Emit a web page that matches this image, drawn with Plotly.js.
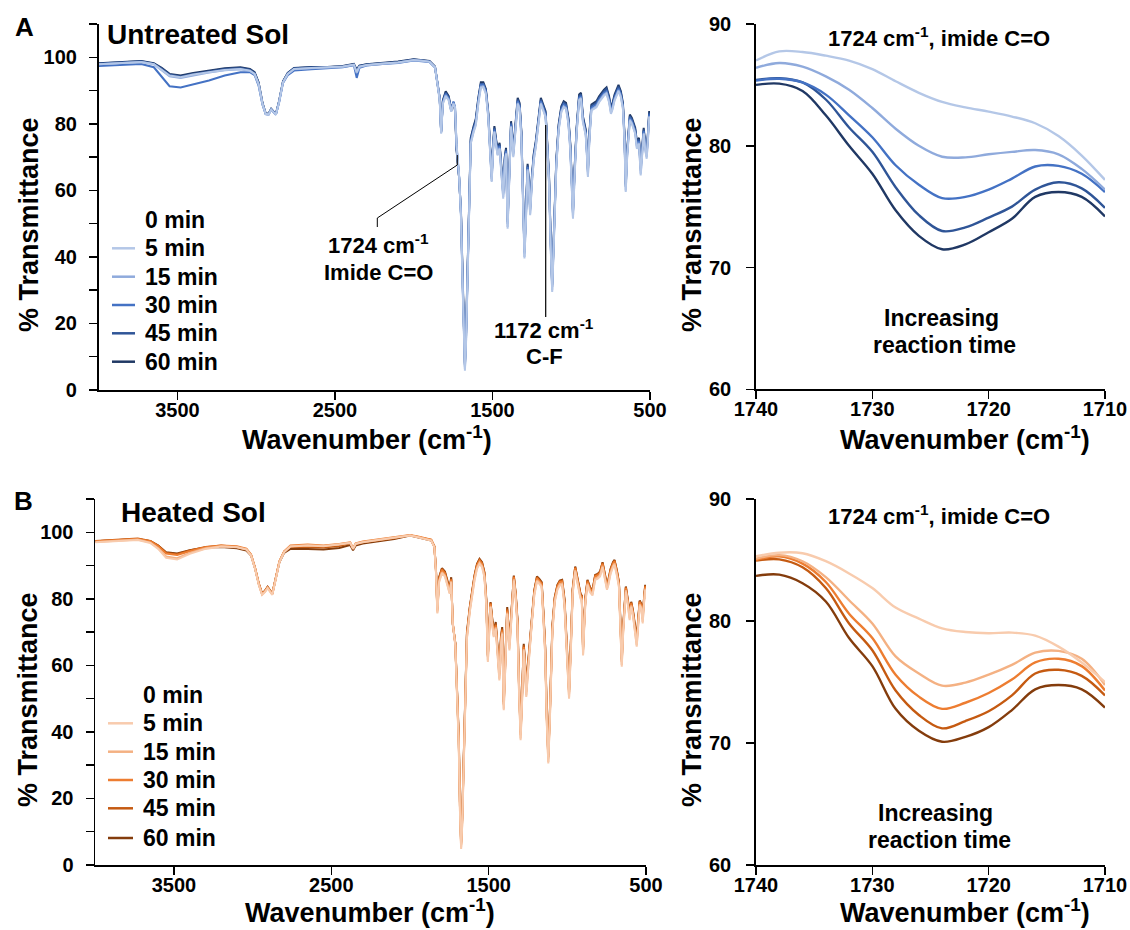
<!DOCTYPE html>
<html><head><meta charset="utf-8">
<script src="https://cdn.plot.ly/plotly-3.0.1.min.js"></script>
<style>html,body{margin:0;padding:0;background:#fff;}#chart{width:1130px;height:930px;}</style>
</head><body><div id="chart"></div>
<script>
// ---------- DATA ----------
const timeLabels = ['5 min', '15 min', '30 min', '45 min', '60 min'];

const wnFull = [4000,3850,3730,3650,3600,3550,3480,3400,3300,3200,
3100,3040,3010,2985,2960,2940,2922,2905,2890,2875,
2855,2830,2800,2760,2650,2550,2450,2380,2362,2345,
2300,2200,2100,2000,1950,1900,1865,1845,1835,1826,
1815,1797,1778,1762,1748,1738,1728,1712,1700,1690,
1682,1675,1668,1660,1650,1638,1620,1606,1590,1574,
1558,1542,1527,1515,1505,1496,1488,1477,1468,1455,
1443,1432,1422,1414,1404,1393,1382,1368,1355,1340,
1328,1317,1307,1297,1287,1277,1268,1261,1250,1238,
1225,1210,1193,1178,1163,1152,1141,1130,1121,1110,
1095,1080,1063,1048,1033,1018,1006,996,989,978,
966,950,938,926,916,908,900,894,885,872,
856,840,823,808,792,776,760,748,740,725,
710,700,685,672,662,654,645,628,615,604,
594,583,570,559,548,540,530,521,512,505,
500];

const untreated5 = [97.9,98.4,98.6,97.9,96.3,94.5,94.0,94.8,95.5,96.2,
96.5,96.0,95.0,92.0,86.0,83.0,82.8,84.3,83.5,82.8,
86.5,92.5,95.0,96.5,96.8,96.9,97.2,97.8,95.5,97.2,
97.7,98.1,98.4,99.2,99.0,98.7,97.0,91.0,87.0,77.0,
86.0,88.3,87.0,83.6,86.0,85.0,73.8,64.5,52.0,32.0,
15.0,5.8,14.0,32.0,55.0,74.0,77.5,79.5,86.0,90.8,
91.0,89.0,82.0,71.5,62.5,72.0,77.5,73.5,70.5,72.5,
66.0,57.5,68.0,71.0,48.5,65.0,79.0,70.0,78.0,86.0,
84.5,76.0,58.0,39.5,52.0,66.0,60.0,52.5,62.0,69.0,
73.0,80.0,86.0,84.0,82.0,72.0,62.0,42.0,29.5,45.0,
67.0,78.0,83.5,85.0,84.5,80.0,72.0,60.0,51.5,65.0,
77.0,87.0,87.5,80.5,78.5,76.5,70.0,64.0,75.0,84.0,
84.5,85.0,86.5,87.5,88.5,89.0,86.5,83.0,84.0,87.0,
89.0,89.8,88.0,84.5,75.0,59.5,70.0,81.0,80.0,78.0,
77.0,72.5,74.0,64.5,72.0,77.0,72.0,69.5,76.0,82.0,
80.0];

const untreated15 = [97.9,98.4,98.6,97.9,96.2,94.3,93.8,94.6,95.4,96.1,
96.4,95.9,94.9,91.8,85.8,82.9,82.7,84.2,83.4,82.7,
86.4,92.4,94.9,96.4,96.7,96.8,97.1,97.7,95.3,97.1,
97.6,98.0,98.4,99.1,99.0,98.6,97.0,91.2,87.2,77.3,
86.3,88.6,87.3,83.8,86.3,85.0,73.4,64.3,52.3,32.5,
15.5,6.3,14.5,32.5,55.5,74.3,77.8,79.9,86.4,91.2,
91.3,89.3,82.3,71.8,62.8,72.4,77.8,73.8,70.8,72.8,
66.4,58.0,68.4,71.3,49.0,65.5,79.3,70.4,78.3,86.3,
84.8,76.3,58.5,40.0,52.5,66.4,60.4,53.0,62.4,69.3,
73.3,80.3,86.3,84.3,82.3,72.4,62.4,42.5,30.0,45.5,
67.4,78.3,83.8,85.3,84.8,80.3,72.4,60.5,52.0,65.5,
77.3,87.3,87.8,80.8,78.8,76.8,70.4,64.5,75.4,84.3,
84.8,85.3,86.8,87.8,88.8,89.3,86.8,83.4,84.3,87.3,
89.3,90.1,88.3,84.8,75.4,60.0,70.4,81.3,80.3,78.3,
77.3,72.8,74.3,65.0,72.4,77.3,72.4,70.0,76.4,82.3,
80.3];

const untreated30 = [97.4,97.8,98.0,97.0,94.0,91.3,90.9,91.8,93.0,94.5,
95.5,95.5,94.6,91.5,85.7,82.9,82.8,84.3,83.4,82.8,
86.4,92.3,94.6,96.0,96.4,96.6,97.0,97.6,93.8,96.8,
97.5,98.0,98.3,99.0,98.9,98.6,96.9,91.3,87.5,77.5,
86.6,89.0,87.7,84.0,86.7,85.2,73.0,64.2,52.8,33.5,
16.5,7.0,15.5,33.5,56.5,74.8,78.3,80.4,87.0,91.7,
91.8,89.8,82.8,72.3,63.5,73.0,78.3,74.3,71.4,73.3,
67.0,58.8,69.0,71.8,50.0,66.3,79.8,71.0,78.8,86.8,
85.3,77.0,59.5,41.0,53.4,67.0,61.0,54.0,63.0,69.9,
73.8,80.8,86.8,84.8,82.8,73.0,63.2,43.5,31.0,46.5,
68.0,78.8,84.3,85.8,85.3,80.8,73.0,61.5,53.2,66.3,
77.8,87.8,88.3,81.3,79.3,77.3,71.0,65.5,76.0,84.8,
85.3,85.8,87.3,88.3,89.3,89.8,87.3,84.0,84.8,87.8,
89.8,90.6,88.8,85.3,76.0,61.0,71.0,81.8,80.8,78.8,
77.8,73.4,74.8,66.0,73.0,77.8,73.0,70.8,77.0,82.8,
80.8];

const untreated45 = [98.1,98.6,98.8,98.1,96.6,94.8,94.2,95.0,95.8,96.5,
96.8,96.3,95.3,92.3,86.2,83.1,82.9,84.4,83.6,82.9,
86.7,92.7,95.2,96.7,97.0,97.0,97.3,97.9,96.0,97.4,
97.8,98.2,98.6,99.3,99.1,98.8,97.1,91.5,87.6,77.5,
86.8,89.3,87.8,84.0,86.5,84.5,72.5,64.0,53.0,34.0,
17.0,7.5,16.0,34.0,57.0,75.3,78.8,81.0,87.3,92.0,
92.0,90.0,83.0,72.8,64.0,73.5,78.8,74.8,72.0,73.8,
67.5,59.3,69.5,72.3,50.5,66.8,80.3,71.5,79.3,87.3,
85.8,77.5,60.0,41.5,54.0,67.5,61.5,54.5,63.5,70.5,
74.3,81.3,87.3,85.3,83.3,73.5,63.8,44.0,31.5,47.0,
68.5,79.3,84.8,86.3,85.8,81.3,73.5,62.0,53.5,66.8,
78.3,88.3,88.8,81.8,79.8,77.8,71.5,66.0,76.5,85.3,
85.8,86.3,87.8,88.8,89.8,90.5,87.8,84.5,85.3,88.3,
90.3,91.2,89.3,85.8,76.5,61.5,71.5,82.3,81.3,79.3,
78.3,74.0,75.3,66.5,73.5,78.3,73.5,71.3,77.5,83.3,
81.3];

const untreated60 = [98.2,98.7,98.9,98.2,96.8,95.0,94.5,95.3,96.0,96.7,
97.0,96.5,95.5,92.5,86.3,83.2,83.0,84.5,83.7,83.0,
86.8,92.8,95.3,96.8,97.1,97.1,97.4,98.0,96.3,97.5,
97.9,98.3,98.7,99.4,99.2,98.9,97.2,91.7,87.8,77.8,
87.1,89.8,88.3,84.3,86.5,84.0,72.0,63.8,53.5,35.0,
18.0,8.0,17.0,35.0,58.0,75.8,79.3,81.5,87.8,92.5,
92.5,90.5,83.5,73.3,64.5,74.0,79.3,75.3,72.5,74.3,
68.0,60.0,70.0,72.8,51.0,67.3,80.8,72.0,79.8,87.8,
86.3,78.0,60.5,42.0,54.5,68.0,62.0,55.0,64.0,71.0,
74.8,81.8,87.8,85.8,83.8,74.0,64.3,44.5,32.0,47.5,
69.0,79.8,85.3,86.8,86.3,81.8,74.0,62.5,54.0,67.3,
78.8,88.8,89.3,82.3,80.3,78.3,72.0,66.5,77.0,85.8,
86.3,86.8,88.3,89.3,90.3,91.0,88.3,85.0,85.8,88.8,
90.8,91.7,89.8,86.3,77.0,62.0,72.0,82.8,81.8,79.8,
78.8,74.5,75.8,67.0,74.0,78.8,74.0,71.8,78.0,83.8,
81.8];

const heated5 = [97.0,97.5,97.7,96.8,95.0,92.3,91.8,93.5,95.0,95.7,
95.5,94.8,93.0,89.0,84.0,81.2,82.0,83.2,82.0,81.2,
85.5,91.0,94.0,95.7,96.0,95.8,96.3,96.8,95.0,96.5,
97.0,97.6,98.2,99.0,98.5,98.0,97.5,95.5,88.0,75.6,
85.0,87.7,86.7,84.0,81.5,85.0,72.5,66.0,50.0,36.0,
15.0,4.8,12.0,28.0,45.0,68.0,76.0,80.5,85.5,89.0,
90.5,89.5,86.5,78.0,61.0,70.0,77.5,72.0,68.5,71.0,
64.0,55.5,66.0,69.5,46.5,63.0,75.5,64.5,75.0,85.5,
80.0,72.0,52.0,37.5,50.0,64.5,58.0,50.5,58.0,66.0,
73.0,81.0,85.2,84.5,83.5,74.0,63.5,42.0,30.5,45.0,
70.0,79.0,82.7,84.0,84.2,78.0,66.0,55.0,50.0,64.0,
81.5,88.2,85.0,81.5,80.0,79.5,63.0,70.0,79.0,84.2,
82.0,81.0,85.7,86.0,86.7,89.5,86.0,82.7,84.0,87.5,
89.5,90.2,87.0,83.5,70.0,59.6,70.0,82.2,78.0,73.6,
77.6,75.0,70.0,65.6,73.0,78.0,77.0,72.6,79.0,82.7,
80.0];

const heated15 = [97.1,97.6,97.8,96.9,95.2,92.7,92.2,93.8,95.2,95.8,
95.6,94.9,93.1,89.2,84.2,81.3,82.1,83.3,82.1,81.3,
85.6,91.1,94.1,95.8,96.1,95.9,96.4,96.9,95.1,96.6,
97.1,97.7,98.3,99.1,98.6,98.1,97.6,95.6,88.2,75.9,
85.3,88.0,87.0,84.3,81.8,85.3,72.6,66.2,50.5,36.5,
15.5,5.3,12.5,28.5,45.5,68.4,76.4,80.9,85.9,89.4,
90.9,89.9,86.9,78.4,61.5,70.5,77.9,72.4,68.9,71.4,
64.5,56.0,66.5,69.9,47.0,63.5,75.9,65.0,75.4,85.9,
80.4,72.4,52.5,38.0,50.5,64.9,58.5,51.0,58.5,66.4,
73.4,81.4,85.6,84.9,83.9,74.4,64.0,42.5,31.0,45.5,
70.4,79.4,83.1,84.4,84.6,78.4,66.5,55.5,50.5,64.5,
81.9,88.6,85.4,81.9,80.4,79.9,63.5,70.4,79.4,84.6,
82.4,81.4,86.1,86.4,87.1,89.9,86.4,83.1,84.4,87.9,
89.9,90.6,87.4,83.9,70.5,60.1,70.4,82.6,78.4,74.1,
78.0,75.4,70.4,66.1,73.4,78.4,77.4,73.1,79.4,83.1,
80.4];

const heated30 = [97.3,97.8,98.0,97.3,95.8,93.6,93.2,94.3,95.5,96.0,
95.8,95.1,93.3,89.4,84.4,81.5,82.3,83.5,82.3,81.5,
85.8,91.3,94.3,96.0,96.3,96.0,96.5,97.0,95.2,96.7,
97.2,97.8,98.4,99.2,98.7,98.3,97.8,95.8,88.5,76.4,
85.8,88.7,87.6,84.8,82.3,85.8,72.8,66.5,51.0,37.5,
16.5,6.0,13.5,29.5,46.5,69.0,77.0,81.5,86.5,90.0,
91.5,90.5,87.5,79.0,62.5,71.5,78.5,73.0,69.5,72.0,
65.5,57.0,67.5,70.5,48.0,64.5,76.5,66.0,76.0,86.5,
81.0,73.0,53.5,39.0,51.5,65.5,59.5,52.0,59.5,67.0,
74.0,82.0,86.2,85.5,84.5,75.0,65.0,43.5,32.0,46.5,
71.0,80.0,83.7,85.0,85.2,79.0,67.5,56.5,51.5,65.5,
82.5,89.2,86.0,82.5,81.0,80.5,64.5,71.0,80.0,85.2,
83.0,82.0,86.7,87.0,87.7,90.5,87.0,83.7,85.0,88.5,
90.5,91.2,88.0,84.5,71.5,61.0,71.0,83.2,79.0,75.0,
78.6,76.0,71.0,67.0,74.0,79.0,78.0,74.0,80.0,83.7,
81.0];

const heated45 = [97.4,97.9,98.1,97.4,96.0,93.8,93.4,94.5,95.6,96.0,
95.6,94.9,93.2,89.3,84.4,81.5,82.3,83.5,82.3,81.5,
85.8,91.2,94.2,95.6,95.6,95.4,95.9,96.7,95.0,96.5,
97.0,97.6,98.2,99.1,98.6,98.2,97.7,95.8,88.7,76.8,
86.2,89.0,87.9,85.0,82.5,86.0,72.5,66.6,51.5,38.0,
17.0,6.5,14.0,30.0,47.0,69.5,77.3,81.8,86.8,90.3,
91.8,90.8,87.8,79.5,63.0,72.0,78.8,73.5,70.0,72.5,
66.0,57.5,68.0,71.0,48.5,65.0,77.0,66.5,76.5,86.8,
81.3,73.5,54.0,39.5,52.0,66.0,60.0,52.5,60.0,67.5,
74.3,82.3,86.5,85.8,84.8,75.5,65.5,44.0,32.5,47.0,
71.5,80.3,84.0,85.3,85.5,79.5,68.0,57.0,52.0,66.0,
82.8,89.5,86.3,82.8,81.3,80.8,65.0,71.5,80.3,85.5,
83.3,82.3,87.0,87.3,88.0,90.8,87.3,84.0,85.3,88.8,
90.8,91.5,88.3,84.8,72.0,61.5,71.5,83.5,79.3,75.5,
78.9,76.3,71.5,67.5,74.5,79.3,78.3,74.5,80.3,84.0,
81.3];

const heated60 = [97.3,97.8,98.0,97.3,96.0,94.0,93.6,94.6,95.4,95.6,
95.2,94.5,93.0,89.2,84.4,81.6,82.4,83.6,82.4,81.6,
85.8,91.0,93.8,95.0,95.0,94.8,95.3,96.2,94.6,96.0,
96.6,97.3,98.0,99.0,98.4,98.0,97.5,95.7,88.9,77.2,
86.5,89.2,88.2,85.5,83.0,86.5,72.3,66.8,52.0,38.5,
18.0,7.0,14.5,30.5,47.5,70.0,77.5,82.0,87.0,90.5,
92.0,91.0,88.0,80.0,63.0,72.5,79.0,74.0,70.5,73.0,
66.0,58.0,68.5,71.5,49.0,65.5,77.5,67.0,77.0,87.0,
81.5,74.0,54.5,40.0,52.5,66.5,60.5,53.0,60.5,68.0,
74.5,82.5,86.7,86.0,85.0,76.0,66.0,44.5,33.0,47.5,
72.0,80.5,84.2,85.5,85.7,80.0,68.5,57.5,52.5,66.5,
83.0,89.7,86.5,83.0,81.5,81.0,65.5,72.0,80.5,85.7,
83.5,82.5,87.2,87.5,88.2,91.0,87.5,84.2,85.5,89.0,
91.0,91.7,88.5,85.0,72.5,62.0,72.0,83.7,79.5,76.0,
79.1,76.5,72.0,68.0,75.0,79.5,78.5,75.0,80.5,84.2,
81.5];

const wnZoom = [1740,1738,1736,1734,1732,1730,1728,1726,1724,1722,1720,1718,1716,1714,1712,1710];
const untreatedZoom5  = [87.0,87.75,87.7,87.4,87.0,86.3,85.3,84.35,83.6,83.15,82.8,82.4,81.85,80.8,79.2,77.2];
const untreatedZoom15 = [86.4,86.8,86.5,85.7,84.6,83.1,81.4,80.0,79.1,79.05,79.3,79.5,79.65,79.3,78.1,76.4];
const untreatedZoom30 = [85.35,85.5,85.2,84.2,82.5,80.7,78.4,76.8,75.7,75.8,76.4,77.3,78.3,78.35,77.7,76.2];
const untreatedZoom45 = [85.4,85.55,85.2,83.8,81.5,79.5,76.6,74.3,73.0,73.3,74.1,75.0,76.4,77.0,76.5,74.9];
const untreatedZoom60 = [85.0,85.1,84.5,82.5,80.0,77.7,74.7,72.6,71.5,71.9,72.9,74.0,75.8,76.2,75.8,74.2];
const heatedZoom5  = [85.3,85.6,85.55,84.9,83.9,82.7,81.1,80.2,79.4,79.1,79.0,79.05,78.8,77.9,76.6,75.0];
const heatedZoom15 = [85.1,85.4,84.9,83.6,81.7,79.8,77.1,75.7,74.7,74.95,75.6,76.4,77.4,77.55,76.9,74.75];
const heatedZoom30 = [85.0,85.3,84.7,83.2,80.6,78.6,75.6,73.8,72.8,73.3,74.1,75.2,76.6,76.9,76.3,74.3];
const heatedZoom45 = [84.95,85.05,84.4,82.7,79.8,77.6,74.3,72.3,71.2,71.8,72.6,73.9,75.7,76.0,75.5,73.9];
const heatedZoom60 = [83.7,83.8,83.1,81.6,78.6,76.3,72.8,71.0,70.1,70.5,71.3,72.7,74.4,74.75,74.4,72.9];

const fullTickVals = [3500, 2500, 1500, 500];
const zoomTickVals = [1740, 1730, 1720, 1710];
const fullYTickVals = [0, 20, 40, 60, 80, 100];
const fullYMinorVals = [10, 30, 50, 70, 90, 110];
const zoomYTickVals = [60, 70, 80, 90];

// ---------- STYLE ----------
const blues = ['#B4C7E7', '#8FAADC', '#4472C4', '#2F5597', '#203864'];
const oranges = ['#F8CBAD', '#F4B183', '#ED7D31', '#C55A11', '#843C0C'];
const W = 1130, H = 930;
const PX = x => x / W, PY = y => 1 - y / H;
const FONT = 'Liberation Sans, Arial, Helvetica, sans-serif';

const traces = [];
function addSeries(xa, ya, wn, list, colors, width, shape) {
  for (let i = list.length - 1; i >= 0; i--) {
    traces.push({type: 'scatter', mode: 'lines', x: wn, y: list[i], xaxis: xa, yaxis: ya,
      name: timeLabels[i], showlegend: false, hoverinfo: 'skip',
      line: {color: colors[i], width: width, shape: shape, smoothing: 1}});
  }
}
addSeries('x', 'y', wnFull, [untreated5, untreated15, untreated30, untreated45, untreated60], blues, 2, 'linear');
addSeries('x2', 'y2', wnZoom, [untreatedZoom5, untreatedZoom15, untreatedZoom30, untreatedZoom45, untreatedZoom60], blues, 2.4, 'spline');
addSeries('x3', 'y3', wnFull, [heated5, heated15, heated30, heated45, heated60], oranges, 2, 'linear');
addSeries('x4', 'y4', wnZoom, [heatedZoom5, heatedZoom15, heatedZoom30, heatedZoom45, heatedZoom60], oranges, 2.4, 'spline');

const tickFont = {family: FONT, size: 20, color: '#000', weight: 700};
const axBase = {showline: true, linecolor: '#000', linewidth: 1.8, ticks: 'outside', ticklen: 8,
  tickwidth: 1.5, tickcolor: '#000', showgrid: false, zeroline: false, tickfont: tickFont,
  fixedrange: true, tickmode: 'array'};

function xFull(d0, d1, anchor) { return Object.assign({}, axBase, {domain: [PX(d0), PX(d1)], range: [4000, 500], anchor: anchor, tickvals: fullTickVals, ticktext: fullTickVals.map(String), ticklabelstandoff: -7}); }
function yFull(t, b, anchor) { return Object.assign({}, axBase, {domain: [PY(b), PY(t)], range: [0, 110], anchor: anchor,
  tickvals: fullYTickVals, ticktext: fullYTickVals.map(String), ticklabelstandoff: 8,
  minor: {tickmode: 'array', tickvals: fullYMinorVals, ticks: 'outside', ticklen: 8, tickwidth: 1.5, tickcolor: '#000', showgrid: false}}); }
function xZoom(anchor) { return Object.assign({}, axBase, {domain: [PX(756), PX(1105)], range: [1740, 1710], anchor: anchor, tickvals: zoomTickVals, ticktext: zoomTickVals.map(String), ticklabelstandoff: -7}); }
function yZoom(t, b, anchor) { return Object.assign({}, axBase, {domain: [PY(b), PY(t)], range: [60, 90], anchor: anchor, tickvals: zoomYTickVals, ticktext: zoomYTickVals.map(String), ticklabelstandoff: 11}); }

const annotations = [];
function ann(text, x, y, size, opts) {
  annotations.push(Object.assign({text: text, x: PX(x), y: PY(y), xref: 'paper', yref: 'paper',
    showarrow: false, xanchor: 'center', yanchor: 'middle',
    font: {family: FONT, size: size, color: '#000', weight: 700}}, opts || {}));
}
const shapes = [];
function seg(x0, y0, x1, y1, color, width) {
  shapes.push({type: 'line', xref: 'paper', yref: 'paper', x0: PX(x0), y0: PY(y0), x1: PX(x1), y1: PY(y1),
    line: {color: color, width: width}});
}

// panel letters and titles
ann('A', 24, 27, 26);
ann('B', 23, 501, 26);
ann('Untreated Sol', 105, 35, 28, {xanchor: 'left'});
ann('Heated Sol', 119, 512, 28, {xanchor: 'left'});

// axis titles
const yTitle = '% Transmittance', xTitle = 'Wavenumber (cm<sup>-1</sup>)';
ann(yTitle, 29, 225, 27, {textangle: -90});
ann(yTitle, 692, 225, 27, {textangle: -90});
ann(yTitle, 28, 700, 27, {textangle: -90});
ann(yTitle, 692, 700, 27, {textangle: -90});
ann(xTitle, 367, 438, 27);
ann(xTitle, 965, 438, 27);
ann(xTitle, 370, 911, 27);
ann(xTitle, 965, 911, 27);

// band annotations
ann('1724 cm<sup>-1</sup>', 378, 244, 22);
ann('Imide C=O', 378, 272, 22);
ann('1172 cm<sup>-1</sup>', 544, 329, 22);
ann('C-F', 544, 356, 22);
seg(377.3, 227, 377.3, 218, '#000', 1);
seg(377.3, 218, 457.3, 165, '#000', 1);
seg(457.3, 165, 457.3, 155, '#000', 1);
seg(545.7, 125, 545.7, 317, '#000', 1.2);

ann('1724 cm<sup>-1</sup>, imide C=O', 939, 37, 22);
ann('Increasing', 941, 318, 23);
ann('reaction time', 944, 345, 23);
ann('1724 cm<sup>-1</sup>, imide C=O', 939, 515, 22);
ann('Increasing', 935, 813, 23);
ann('reaction time', 939, 840, 23);

// legends
function legend(lineX0, lineX1, textX, rows, colors) {
  ann('0 min', textX, rows[0], 23, {xanchor: 'left'});
  for (let i = 0; i < timeLabels.length; i++) {
    seg(lineX0, rows[i + 1], lineX1, rows[i + 1], colors[i], 2.5);
    ann(timeLabels[i], textX, rows[i + 1], 23, {xanchor: 'left'});
  }
}
legend(112, 135, 143, [220, 248.3, 276.7, 305, 333.3, 361.7], blues);
legend(108, 133, 141, [695, 723.3, 751.7, 780, 808.3, 838], oranges);

const layout = {
  width: W, height: H, margin: {l: 0, r: 0, t: 0, b: 0},
  paper_bgcolor: '#fff', plot_bgcolor: 'rgba(0,0,0,0)', showlegend: false,
  xaxis: xFull(98.7, 650, 'y'), yaxis: yFull(24, 390, 'x'),
  xaxis2: xZoom('y2'), yaxis2: yZoom(24, 389.3, 'x2'),
  xaxis3: xFull(95.3, 646, 'y3'), yaxis3: yFull(499, 865, 'x3'),
  xaxis4: xZoom('y4'), yaxis4: yZoom(499, 865, 'x4'),
  annotations: annotations, shapes: shapes,
  font: {family: FONT, color: '#000'}
};
Plotly.newPlot('chart', traces, layout, {staticPlot: true, displayModeBar: false});
</script></body></html>
